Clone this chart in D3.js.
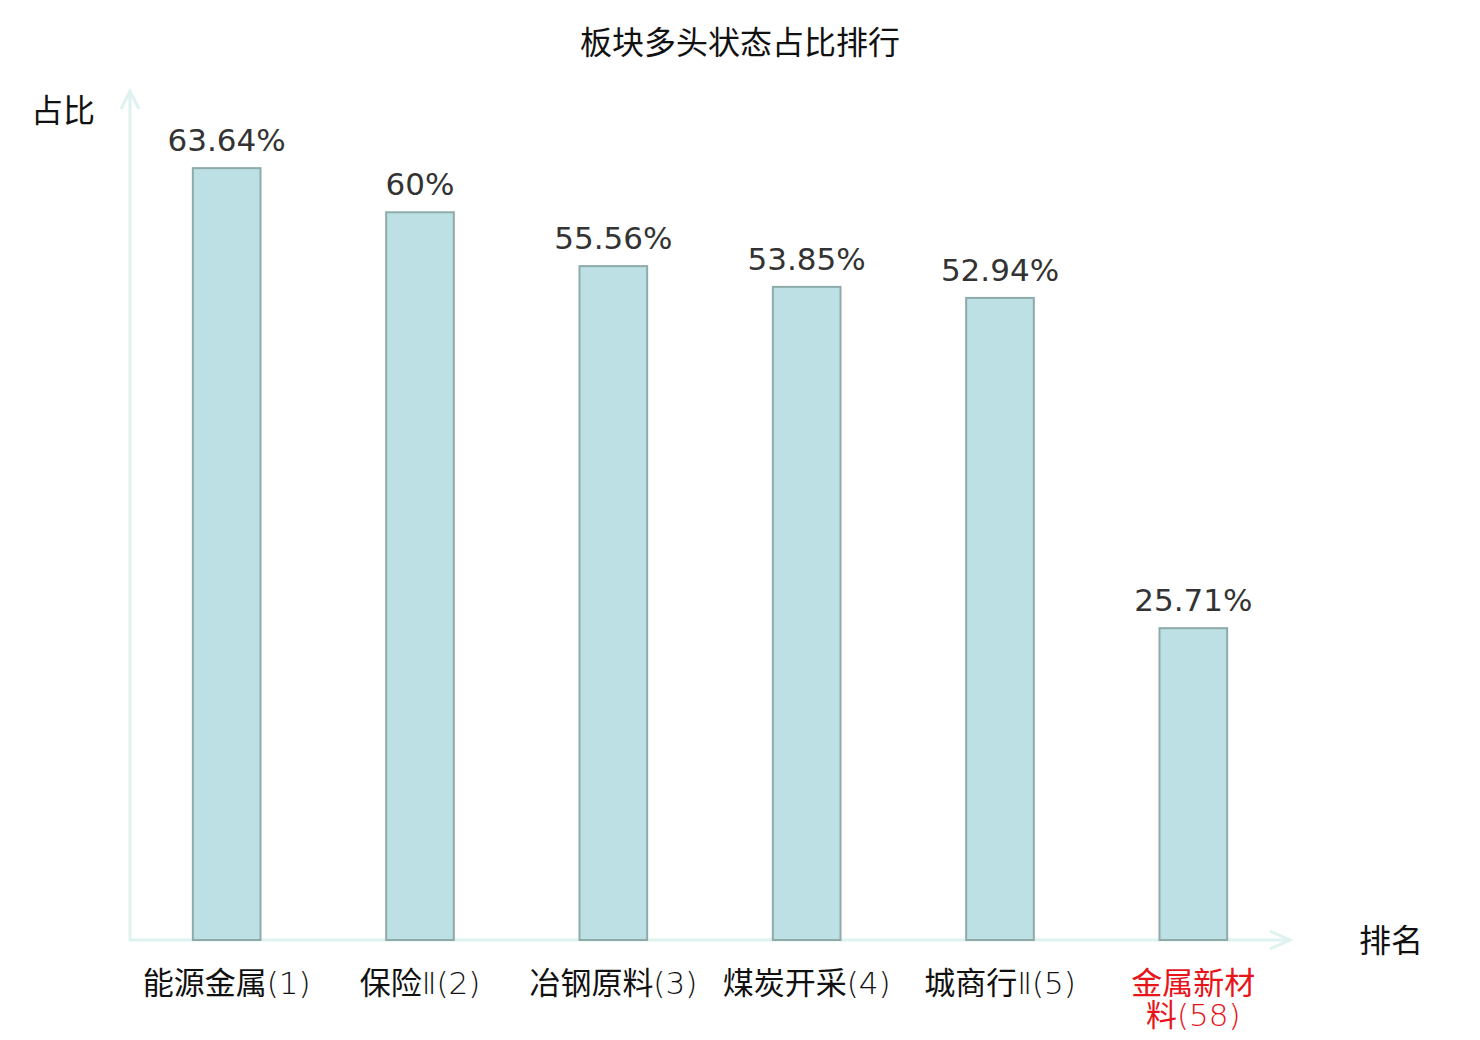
<!DOCTYPE html>
<html>
<head>
<meta charset="utf-8">
<title>板块多头状态占比排行</title>
<script src="https://cdn.jsdelivr.net/npm/d3@7"></script>
<style>
  html, body { margin: 0; padding: 0; background: #fff; }
  #chart-container { width: 1480px; height: 1040px; }
  text { font-family: "Noto Sans CJK SC", "Noto Sans", sans-serif; }
</style>
</head>
<body>
<div id="chart-container"></div>
<script>
// --- data ---
// "\n" marks where the original label wraps
const categories = ["能源金属(1)", "保险Ⅱ(2)", "冶钢原料(3)", "煤炭开采(4)", "城商行Ⅱ(5)", "金属新材\n料(58)"];
const shares     = [63.64, 60, 55.56, 53.85, 52.94, 25.71];   // percent
const highlightCategory = "金属新材\n料(58)";

const chartTitle = "板块多头状态占比排行";
const yLabel = "占比";
const xLabel = "排名";

// =============================================================================
// CHART
// =============================================================================

function renderChart() {
  const container = document.getElementById("chart-container");
  container.innerHTML = "";

  const totalW = 1480, totalH = 1040;
  const x0 = 130, x1 = 1290;     // x axis extent
  const yBase = 940, yTop = 91;  // y axis extent

  const svg = d3.select("#chart-container")
    .append("svg")
    .attr("width", totalW)
    .attr("height", totalH);

  const data = categories.map((c, i) => ({ cat: c, val: shares[i] }));

  // --- scales ---
  const x = d3.scaleBand()
    .domain(categories)
    .range([x0, x1])
    .paddingInner(0.65)
    .paddingOuter(0.325);

  const y = d3.scaleLinear()
    .domain([0, 70])
    .range([yBase, yTop]);

  const axisColor = "#def2ef";

  // --- axes lines with open arrow heads ---
  svg.append("line")
    .attr("x1", x0).attr("y1", yBase)
    .attr("x2", x1 - 1).attr("y2", yBase)
    .attr("stroke", axisColor).attr("stroke-width", 3);

  svg.append("path")
    .attr("d", `M${x1 - 20},${yBase - 9} L${x1},${yBase} L${x1 - 20},${yBase + 9}`)
    .attr("fill", "none").attr("stroke", axisColor).attr("stroke-width", 3);

  svg.append("line")
    .attr("x1", x0).attr("y1", yBase + 1.5)
    .attr("x2", x0).attr("y2", yTop)
    .attr("stroke", axisColor).attr("stroke-width", 3);

  svg.append("path")
    .attr("d", `M${x0 - 9},${yTop + 18} L${x0},${yTop} L${x0 + 9},${yTop + 18}`)
    .attr("fill", "none").attr("stroke", axisColor).attr("stroke-width", 3);

  // --- x axis tick labels (no ticks / domain) ---
  const xAxis = svg.append("g")
    .attr("transform", `translate(0,${yBase})`)
    .call(d3.axisBottom(x).tickSize(0).tickPadding(0));

  xAxis.select(".domain").remove();
  xAxis.selectAll("text")
    .attr("y", 54)
    .attr("dy", null)
    .style("font-size", "31px")
    .attr("fill", d => d === highlightCategory ? "#e8141a" : "#111")
    .each(function (d) { multiLine(d3.select(this), d, 32); });

  // --- bars ---
  svg.selectAll(".bar")
    .data(data)
    .enter()
    .append("rect")
    .attr("class", "bar")
    .attr("x", d => x(d.cat))
    .attr("y", d => y(d.val))
    .attr("width", x.bandwidth())
    .attr("height", d => yBase - y(d.val))
    .attr("fill", "#bce0e3")
    .attr("stroke", "#8eaaa9")
    .attr("stroke-width", 2);

  // --- value labels ---
  svg.selectAll(".val")
    .data(data)
    .enter()
    .append("text")
    .attr("class", "val")
    .attr("x", d => x(d.cat) + x.bandwidth() / 2)
    .attr("y", d => y(d.val) - 17)
    .attr("text-anchor", "middle")
    .style("font-family", "'DejaVu Sans', sans-serif")
    .style("font-size", "31px")
    .attr("fill", "#333")
    .text(d => `${d.val}%`);

  // --- title & axis names ---
  svg.append("text")
    .attr("x", 740).attr("y", 54)
    .attr("text-anchor", "middle")
    .style("font-size", "32px")
    .attr("fill", "#111")
    .text(chartTitle);

  svg.append("text")
    .attr("x", 63).attr("y", 122)
    .attr("text-anchor", "middle")
    .style("font-size", "32px")
    .attr("fill", "#111")
    .text(yLabel);

  svg.append("text")
    .attr("x", 1391).attr("y", 952)
    .attr("text-anchor", "middle")
    .style("font-size", "32px")
    .attr("fill", "#111")
    .text(xLabel);
}

// split label on "\n"; roman numeral and bracket part drawn in a thinner latin face
function multiLine(textSel, label, lineH) {
  const yPos = +textSel.attr("y");
  textSel.text(null);
  label.split("\n").forEach((line, i) => {
    const row = textSel.append("tspan").attr("x", 0).attr("y", yPos + i * lineH);
    line.split(/([Ⅱ]|\(.*\))/).filter(s => s.length).forEach(part => {
      const t = row.append("tspan").text(part);
      if (/^(Ⅱ|\(.*\))$/.test(part)) {
        t.style("font-family", "'DejaVu Sans', sans-serif")
         .style("font-weight", "200")
         .style("font-size", part === "Ⅱ" ? "30px" : "31px");
      }
    });
  });
}

renderChart();
</script>
</body>
</html>
